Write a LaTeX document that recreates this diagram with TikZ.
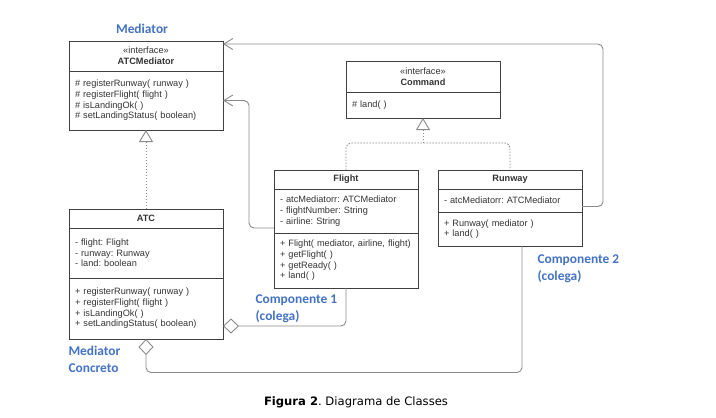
\documentclass[tikz,border=0pt]{standalone}
\usepackage{fontspec}
\setmainfont{Liberation Sans}
\newfontfamily\notefont{Carlito}
\newfontfamily\capfont{DejaVu Sans}
\usetikzlibrary{positioning,arrows.meta}
\definecolor{boxline}{HTML}{404040}
\definecolor{textgray}{HTML}{333333}
\definecolor{linkgray}{HTML}{8A8A8A}
\definecolor{noteblue}{HTML}{4472C4}
\frenchspacing
\begin{document}
\begin{tikzpicture}[x=1pt, y=-1pt,
  classhead/.style={draw=boxline, line width=1pt, outer sep=0pt, inner sep=0pt,
    minimum width=#1, align=center, text=textgray, font=\fontsize{9.2}{10.8}\selectfont},
  classpart/.style={draw=boxline, line width=1pt, outer sep=0pt, inner xsep=6pt, inner ysep=0pt,
    text width=#1, align=left, text=textgray, font=\fontsize{9.2}{10.7}\selectfont},
  link/.style={draw=linkgray, line width=0.9pt, rounded corners=5pt},
  realize/.style={link, dash pattern=on 1.5pt off 1.5pt, -{Triangle[open, length=12pt, width=14pt]}},
  assoc/.style={link, -{Straight Barb[length=9pt, width=11pt]}},
  aggr/.style={link, -{Diamond[open, length=16pt, width=15pt]}},
  note/.style={text=noteblue, align=left, font=\notefont\bfseries\fontsize{13.4}{17}\selectfont}]
  \useasboundingbox (0,0) rectangle (716,418);

  \node[classhead=154, minimum height=30, anchor=north] (mediator) at (146,41) {«interface»\\\textbf{ATCMediator}};
  \node[classpart=142pt, minimum height=59, below=0pt of mediator] (mediatorops) {\# registerRunway( runway )\\\# registerFlight( flight )\\\# isLandingOk( )\\\# setLandingStatus( boolean)};

  \node[classhead=154, minimum height=19, anchor=north] (atc) at (146,209) {\textbf{ATC}};
  \node[classpart=142pt, minimum height=50, below=0pt of atc] (atcattr) {- flight: Flight\\- runway: Runway\\- land: boolean};
  \node[classpart=142pt, minimum height=61, below=0pt of atcattr] (atcops) {+ registerRunway( runway )\\+ registerFlight( flight )\\+ isLandingOk( )\\+ setLandingStatus( boolean)};

  \node[classhead=154, minimum height=31, anchor=north] (command) at (423,61) {«interface»\\\textbf{Command}};
  \node[classpart=142pt, minimum height=26, below=0pt of command] (commandops) {\# land( )};

  \node[classhead=144, minimum height=19, anchor=north] (flight) at (346,170) {\textbf{Flight}};
  \node[classpart=132pt, minimum height=44, below=0pt of flight] (flightattr) {- atcMediatorr: ATCMediator\\- flightNumber: String\\- airline: String};
  \node[classpart=132pt, minimum height=55, below=0pt of flightattr] (flightops) {+ Flight( mediator, airline, flight)\\+ getFlight( )\\+ getReady( )\\+ land( )};

  \node[classhead=144, minimum height=19, anchor=north] (runway) at (510,170) {\textbf{Runway}};
  \node[classpart=132pt, minimum height=23, below=0pt of runway] (runwayattr) {- atcMediatorr: ATCMediator};
  \node[classpart=132pt, minimum height=34, below=0pt of runwayattr] (runwayops) {+ Runway( mediator )\\+ land( )};

  \coordinate (cmdjoin) at (423,143);
  \coordinate (atcloop) at ([yshift=-33.5pt]atcops.south);

  \draw[realize] (atc.north) -- (mediatorops.south);
  \draw[link, dash pattern=on 1.5pt off 1.5pt] (flight.north) |- (cmdjoin) -| (runway.north);
  \draw[realize] (cmdjoin) -- (commandops.south);
  \draw[assoc] ([yshift=-6pt]runwayattr.east) -| (603,44) -- ([yshift=-3pt]mediator.north east);
  \draw[assoc] ([yshift=5pt]flightattr.south west) -| ([xshift=26pt]mediatorops.east) -- (mediatorops.east);
  \draw[aggr] (flightops.south) |- ([yshift=13pt]atcops.south east);
  \draw[aggr] ([xshift=12pt]runwayops.south) |- (atcloop) -- (atcops.south);

  \node[note, align=center] (medlabel) at (142,29) {Mediator};
  \node[note, anchor=west] (concretelabel) at (65,359.5) {Mediator\\Concreto};
  \node[note, anchor=west] (comp1label) at (252,308.5) {Componente 1\\(colega)};
  \node[note, anchor=west] (comp2label) at (534,269) {Componente 2\\(colega)};
  \node[font=\capfont\fontsize{11.6}{14}\selectfont] (caption) at (356,402) {\textbf{Figura 2}. Diagrama de Classes};
\end{tikzpicture}
\end{document}
